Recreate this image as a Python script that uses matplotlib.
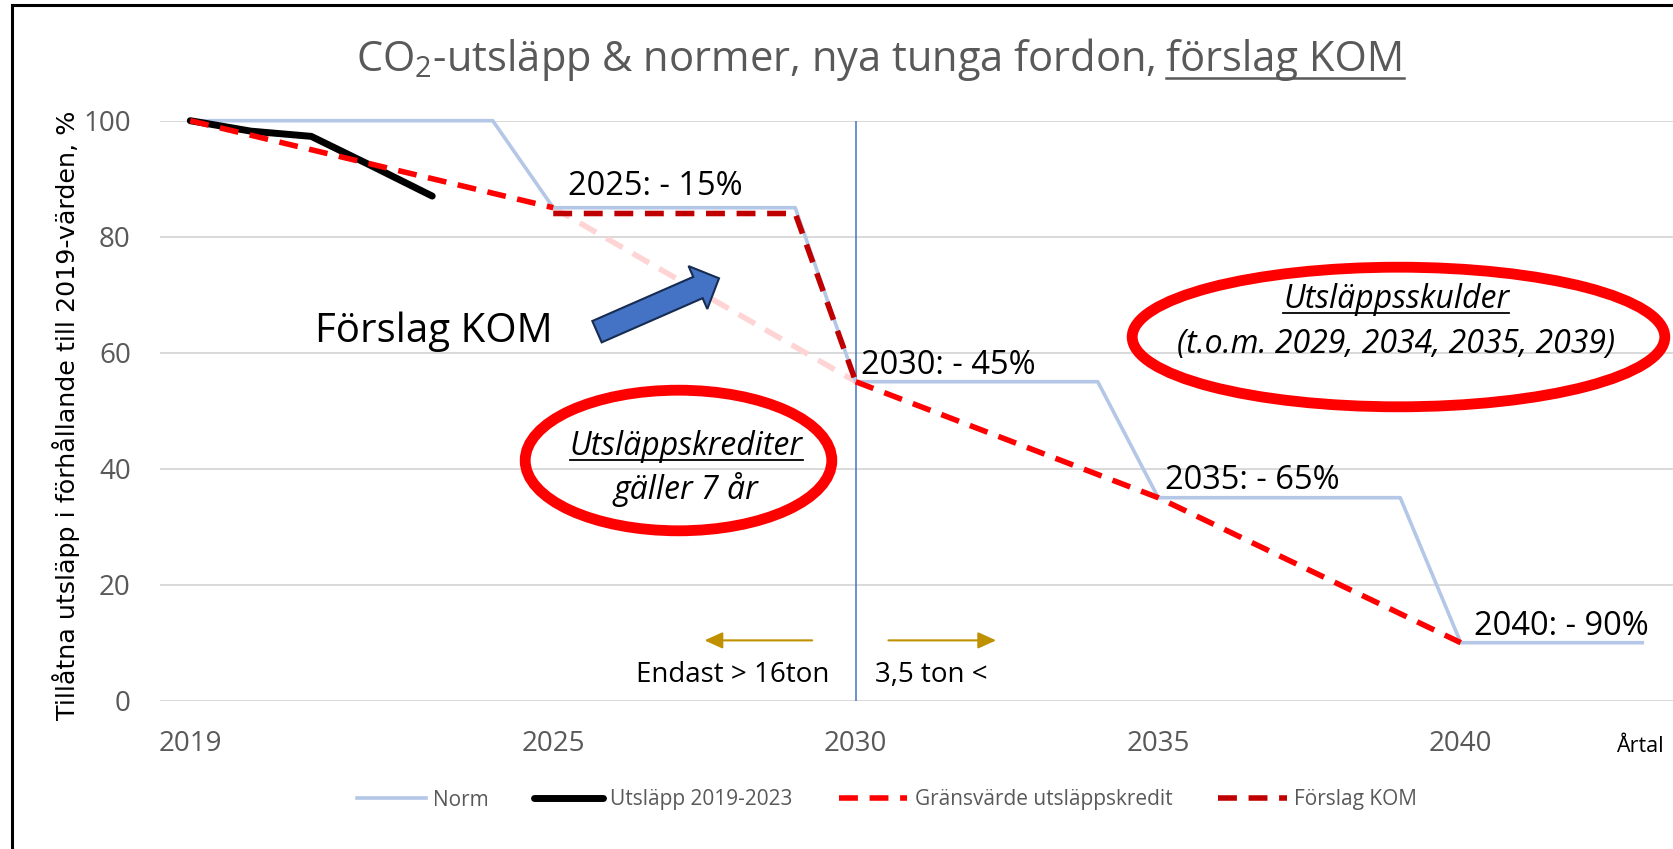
import numpy as np
import matplotlib
matplotlib.use('Agg')
import matplotlib.pyplot as plt
from matplotlib.patches import Ellipse, FancyArrow
from matplotlib.lines import Line2D

# data (percent of 2019 values)
years = np.arange(2019, 2044)
norm = [100, 100, 100, 100, 100, 100,
        85, 85, 85, 85, 85,
        55, 55, 55, 55, 55,
        35, 35, 35, 35, 35,
        10, 10, 10, 10]
utslapp_years = [2019, 2020, 2021, 2022, 2023]
utslapp = [100, 98.2, 97.3, 92.2, 87.0]
grans_years = [2019, 2025, 2030, 2035, 2040]
grans = [100, 85, 55, 35, 10]
kom_years = [2025, 2029, 2030]
kom = [84, 84, 55]
label_years = [2025, 2030, 2035, 2040]
label_texts = ['2025: - 15%', '2030: - 45%', '2035: - 65%', '2040: - 90%']
tick_years = [2019, 2025, 2030, 2035, 2040]
y_ticks = [0, 20, 40, 60, 80, 100]

W, H = 1673, 849
GREY = '#595959'

plt.rcParams['font.family'] = ['Open Sans', 'DejaVu Sans']
plt.rcParams['mathtext.fontset'] = 'custom'
plt.rcParams['mathtext.rm'] = 'Open Sans'

fig = plt.figure(figsize=(W / 100, H / 100), dpi=100)
inch = fig.dpi_scale_trans


def at(x, y):
    """pixel position (from top left) -> inches for dpi_scale_trans"""
    return x / 100, (H - y) / 100


ax = fig.add_axes([160 / W, 1 - 700.7 / H, (1672.5 - 160) / W, (700.7 - 120.7) / H])

# series
ax.plot(years, norm, color='#B4C7E7', lw=2.6, label='Norm', clip_on=False, zorder=3)
ax.plot(utslapp_years, utslapp, color='black', lw=5, solid_capstyle='round',
        label='Utsläpp 2019-2023', clip_on=False, zorder=4)
dash = (0, (3.4, 2.1))
ax.plot(grans_years[:2], grans[:2], color='#FF0000', lw=4, ls=dash,
        label='Gränsvärde utsläppskredit', clip_on=False, zorder=5)
ax.plot(grans_years[1:3], grans[1:3], color='#FFD4D4', lw=4, ls=dash, zorder=2)
ax.plot(grans_years[2:], grans[2:], color='#FF0000', lw=4, ls=dash, zorder=5)
ax.plot(kom_years, kom, color='#C00000', lw=4, ls=dash, label='Förslag KOM', zorder=6)

ax.axvline(2030, color='#4472C4', lw=1.1, zorder=2)

# data labels above the norm steps
offsets = [(15, 13), (5, 8), (7, 9), (13, 8)]
for yr, txt, off in zip(label_years, label_texts, offsets):
    val = norm[list(years).index(yr)]
    ax.annotate(txt, (yr, val), xytext=off, textcoords='offset pixels',
                ha='left', va='baseline', fontsize=23.5, color='black', zorder=7)

# axes styling
ax.set_xlim(2018.5, 2043.5)
ax.set_ylim(0, 100)
ax.set_xticks(tick_years)
ax.set_xticklabels([str(t) for t in tick_years])
ax.set_yticks(y_ticks)
ax.yaxis.grid(True, color='#D9D9D9', lw=1.4)
ax.set_axisbelow(True)
for s in ax.spines.values():
    s.set_visible(False)
ax.tick_params(length=0, labelsize=20, labelcolor=GREY, pad=21)

# small gold arrows with weight classes
gold = '#BF9000'
ap = dict(arrowstyle='-|>,head_length=1.1,head_width=0.5', color=gold, lw=1.5,
          mutation_scale=10, shrinkA=0, shrinkB=0)
ax.annotate('', xy=(2027.5, 10.4), xytext=(2029.28, 10.4), arrowprops=ap)
ax.annotate('', xy=(2032.32, 10.4), xytext=(2030.54, 10.4), arrowprops=ap)
ax.text(2029.57, 4.5, 'Endast > 16ton', ha='right', va='center', fontsize=20)
ax.text(2030.32, 4.5, '3,5 ton <', ha='left', va='center', fontsize=20)

# title, last part underlined
fs_title = 30
t1 = fig.text(*at(1156, 70.7), 'CO$_2$-utsläpp & normer, nya tunga fordon,', transform=inch,
              ha='right', va='baseline', fontsize=fs_title, color=GREY)
t2 = fig.text(*at(1166, 70.7), 'förslag KOM', transform=inch,
              ha='left', va='baseline', fontsize=fs_title, color=GREY)

# y label and x unit
fig.text(*at(66, 415.5), 'Tillåtna utsläpp i förhållande till 2019-värden, %', transform=inch,
         rotation=90, ha='center', va='center', fontsize=18.3, family='DejaVu Sans')
fig.text(*at(1639.5, 752), 'Årtal', transform=inch, ha='center', va='baseline', fontsize=15.5)

# text inside the red ellipses
k1 = fig.text(*at(686, 455), 'Utsläppskrediter', transform=inch, ha='center', va='baseline',
              fontsize=23, style='italic')
fig.text(*at(686, 499), 'gäller 7 år', transform=inch, ha='center', va='baseline',
         fontsize=23, style='italic')
k2 = fig.text(*at(1396, 308), 'Utsläppsskulder', transform=inch, ha='center', va='baseline',
              fontsize=23, style='italic')
fig.text(*at(1396, 353), '(t.o.m. 2029, 2034, 2035, 2039)', transform=inch, ha='center',
         va='baseline', fontsize=23, style='italic')

fig.add_artist(Ellipse(at(678.5, 460.5), 306.6 / 100, 140.6 / 100, transform=inch,
                       fill=False, ec='#FF0000', lw=7.8))
fig.add_artist(Ellipse(at(1398.5, 337), 532.6 / 100, 139.6 / 100, transform=inch,
                       fill=False, ec='#FF0000', lw=7.8))

# blue block arrow and its label
x0, y0 = at(597, 331.7)
fig.add_artist(FancyArrow(x0, y0, 1.22, 0.534, width=0.233, head_width=0.468, head_length=0.23,
                          length_includes_head=True, transform=inch,
                          fc='#4472C4', ec='#172C51', lw=1.5))
fig.text(*at(314.6, 341.7), 'Förslag KOM', transform=inch, ha='left', va='baseline', fontsize=29)

# underlines measured from the rendered text
renderer = fig.canvas.get_renderer()
for t, y_px, col, lw in [(t2, 78, GREY, 1.8), (k1, 460, 'black', 1.3), (k2, 313, 'black', 1.3)]:
    bb = t.get_window_extent(renderer)
    yy = (H - y_px) / 100
    fig.add_artist(Line2D([bb.x0 / 100, bb.x1 / 100], [yy, yy], transform=inch, color=col, lw=lw))

# frame of the original picture (left and top only)
fig.add_artist(Line2D([0.117, 0.117, W / 100], [0, 8.44, 8.44], transform=inch,
                      color='black', lw=2.2, solid_joinstyle='miter'))

# legend
handles, labels = ax.get_legend_handles_labels()
fig.legend(handles, labels, loc='center', bbox_to_anchor=(887 / W, 1 - 800 / H), ncol=4,
           frameon=False, fontsize=15, handlelength=3.3, handletextpad=0.35,
           columnspacing=2.2, labelcolor=GREY)

fig.savefig('out.png', dpi=100)
